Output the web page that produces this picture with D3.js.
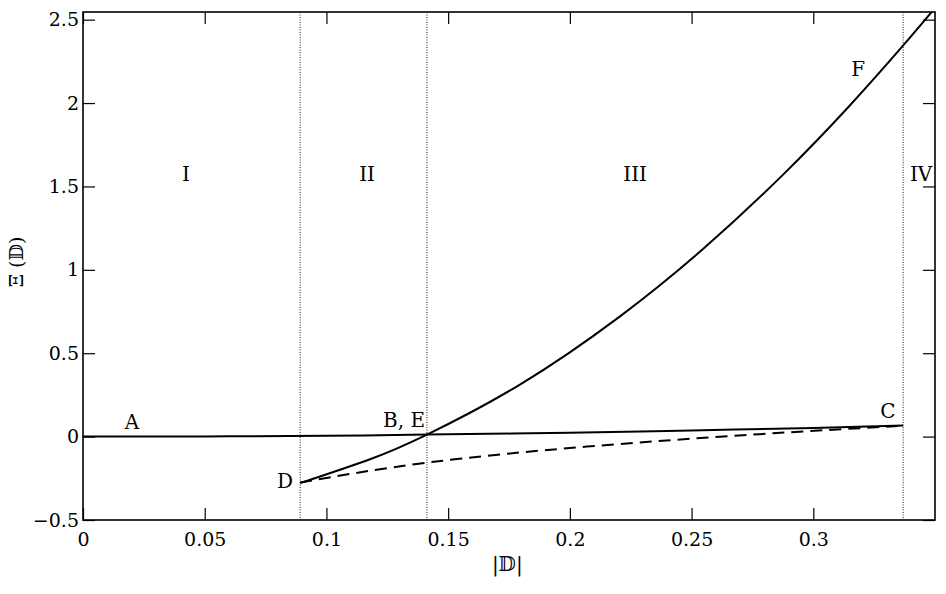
<!DOCTYPE html>
<html>
<head>
<meta charset="utf-8">
<script src="https://cdn.jsdelivr.net/npm/d3@7"></script>
<style>
  body { margin: 0; background: #fff; }
  text { font-family: "DejaVu Serif", "Liberation Serif", serif; fill: #000; }
</style>
</head>
<body>
<svg width="946" height="594"></svg>
<script>
// --- data ---
const lineAx = [0, 0.05, 0.1, 0.1413, 0.2, 0.25, 0.3, 0.3369];
const lineAy = [0, 0.001, 0.005, 0.012, 0.023, 0.037, 0.052, 0.066];

const curveFx = [0.0892, 0.1179, 0.1413, 0.1795, 0.2206, 0.2547, 0.2876, 0.3151, 0.3365, 0.35];
const curveFy = [-0.279, -0.136, 0.012, 0.312, 0.721, 1.125, 1.571, 1.987, 2.338, 2.57];

const dashedX = [0.0892, 0.1413, 0.207, 0.275, 0.3369];
const dashedY = [-0.275, -0.156, -0.06, 0.012, 0.065];

const boundaries = [0.0892, 0.1413, 0.3369];

const regionNames = ['I', 'II', 'III', 'IV'];
const regionX = [0.0423, 0.1167, 0.2268, 0.3443];
const regionY = 1.535;

const pointNames = ['A', 'B, E', 'C', 'D', 'F'];
const pointX = [0.0201, 0.1319, 0.3307, 0.083, 0.3184];
const pointY = [0.048, 0.06, 0.114, -0.31, 2.164];

const xTicks = [0, 0.05, 0.1, 0.15, 0.2, 0.25, 0.3];
const yTicks = [-0.5, 0, 0.5, 1, 1.5, 2, 2.5];

const svg = d3.select('svg');
const width = +svg.attr('width');
const height = +svg.attr('height');
const margin = { top: 12, right: 11, bottom: 74, left: 83 };
const innerW = width - margin.left - margin.right;
const innerH = height - margin.top - margin.bottom;

const x = d3.scaleLinear().domain([0, 0.35]).range([0, innerW]);
const y = d3.scaleLinear().domain([-0.5, 2.546]).range([innerH, 0]);

const g = svg.append('g')
    .attr('transform', `translate(${margin.left}, ${margin.top})`);

g.append('clipPath').attr('id', 'clip')
  .append('rect').attr('width', innerW).attr('height', innerH);

const fmt = d => (d < 0 ? '\u2212' + Math.abs(d) : String(d));
const minorX = d3.range(0, 0.351, 0.025);
const minorY = d3.range(-0.5, 2.55, 0.25);

// axes with inward ticks on all four sides
const bottomAxis = g.append('g').attr('transform', `translate(0, ${innerH})`);
bottomAxis.call(d3.axisBottom(x).tickValues(minorX).tickSize(-6).tickFormat(''));
bottomAxis.call(d3.axisBottom(x).tickValues(xTicks).tickSize(-12).tickPadding(13).tickFormat(fmt));
const topAxis = g.append('g');
topAxis.call(d3.axisTop(x).tickValues(minorX).tickSize(-6).tickFormat(''));
topAxis.call(d3.axisTop(x).tickValues(xTicks).tickSize(-12).tickFormat(''));
const leftAxis = g.append('g');
leftAxis.call(d3.axisLeft(y).tickValues(minorY).tickSize(-6).tickFormat(''));
leftAxis.call(d3.axisLeft(y).tickValues(yTicks).tickSize(-12).tickPadding(4).tickFormat(fmt));
const rightAxis = g.append('g').attr('transform', `translate(${innerW}, 0)`);
rightAxis.call(d3.axisRight(y).tickValues(minorY).tickSize(-6).tickFormat(''));
rightAxis.call(d3.axisRight(y).tickValues(yTicks).tickSize(-12).tickFormat(''));

g.selectAll('.domain').remove();
g.selectAll('.tick line').attr('stroke', '#000').attr('stroke-width', 1.2);
g.selectAll('.tick text').style('font-size', '19px').style('font-family', '"DejaVu Serif", serif');

g.append('rect')
    .attr('width', innerW)
    .attr('height', innerH)
    .attr('fill', 'none')
    .attr('stroke', '#000')
    .attr('stroke-width', 1.6);

// region boundaries
g.selectAll('.bound')
  .data(boundaries)
  .join('line')
    .attr('x1', d => x(d)).attr('x2', d => x(d))
    .attr('y1', 0).attr('y2', innerH)
    .attr('stroke', '#000')
    .attr('stroke-width', 0.9)
    .attr('stroke-dasharray', '1,1.5');

const line = d3.line()
    .x(d => x(d[0]))
    .y(d => y(d[1]))
    .curve(d3.curveNatural);

const plot = g.append('g').attr('clip-path', 'url(#clip)');

plot.append('path')
    .attr('d', line(d3.zip(lineAx, lineAy)))
    .attr('fill', 'none').attr('stroke', '#000').attr('stroke-width', 2);

plot.append('path')
    .attr('d', line(d3.zip(curveFx, curveFy)))
    .attr('fill', 'none').attr('stroke', '#000').attr('stroke-width', 2);

plot.append('path')
    .attr('d', line(d3.zip(dashedX, dashedY)))
    .attr('fill', 'none').attr('stroke', '#000').attr('stroke-width', 2)
    .attr('stroke-dasharray', '12,7');

// labels
g.selectAll('.region')
  .data(regionNames)
  .join('text')
    .attr('x', (d, i) => x(regionX[i]))
    .attr('y', y(regionY))
    .attr('text-anchor', 'middle')
    .style('font-size', '20px')
    .text(d => d);

g.selectAll('.pt')
  .data(pointNames)
  .join('text')
    .attr('x', (d, i) => x(pointX[i]))
    .attr('y', (d, i) => y(pointY[i]))
    .attr('text-anchor', 'middle')
    .style('font-size', '20px')
    .text(d => d);

// axis titles
svg.append('text')
    .attr('x', margin.left + x(0.1743))
    .attr('y', 571)
    .attr('text-anchor', 'middle')
    .style('font-size', '20px')
    .text('|\u{1D53B}|');

svg.append('text')
    .attr('transform', 'translate(23, 262) rotate(-90)')
    .attr('text-anchor', 'middle')
    .style('font-size', '19px')
    .text('\u039E (\u{1D53B})');
</script>
</body>
</html>
